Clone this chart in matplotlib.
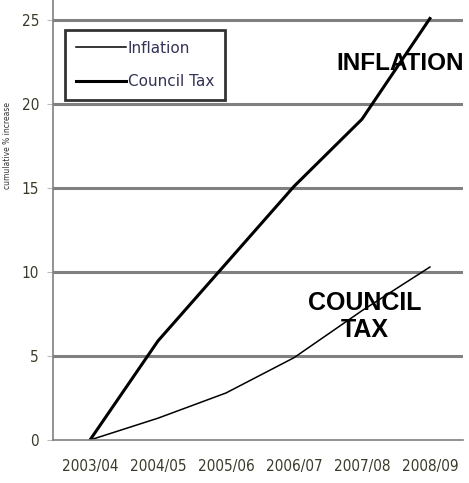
import matplotlib.pyplot as plt
from matplotlib import font_manager

years = ['2003/04', '2004/05', '2005/06', '2006/07', '2007/08', '2008/09']
inflation = [0, 1.3, 2.8, 4.9, 7.7, 10.3]
council_tax = [0, 5.9, 10.5, 15.1, 19.1, 25.1]

# narrow font for the ticks, like the original
names = {f.name for f in font_manager.fontManager.ttflist}
narrow = 'Liberation Sans Narrow' if 'Liberation Sans Narrow' in names else 'DejaVu Sans'

fig = plt.figure(figsize=(4.69, 4.83), dpi=100)
ax = fig.add_axes([0.113, 0.089, 0.874, 0.911])

x = range(len(years))
ax.plot(x, inflation, color='black', lw=1.1, label='Inflation')
ax.plot(x, council_tax, color='black', lw=2.2, label='Council Tax')

ax.set_xlim(-0.544, 5.485)
ax.set_ylim(0, 26.2)
ax.set_yticks([0, 5, 10, 15, 20, 25])
ax.set_xticks(list(x))
ax.set_xticklabels(years)

# gray horizontal gridlines
for v in [5, 10, 15, 20, 25]:
    ax.axhline(v, color='#808080', lw=2.2, zorder=0)

for s in ['top', 'right']:
    ax.spines[s].set_visible(False)
for s in ['left', 'bottom']:
    ax.spines[s].set_color('#808080')
    ax.spines[s].set_linewidth(1.2)

for lab in ax.get_xticklabels() + ax.get_yticklabels():
    lab.set_fontfamily(narrow)
    lab.set_fontstretch('condensed')
    lab.set_fontsize(11)
    lab.set_color('#3a3a2a')
ax.tick_params(axis='y', length=4, color='#bbbbbb', pad=6)
ax.tick_params(axis='x', length=0, pad=14)

ax.set_ylabel('cumulative % increase', fontsize=5.5, color='#333333')
ax.yaxis.set_label_coords(-0.1, 0.67)

leg = ax.legend(loc='upper left', bbox_to_anchor=(0.029, 0.932),
                prop={'family': narrow, 'size': 11},
                frameon=True, fancybox=False, handlelength=3.3, handletextpad=0.1,
                borderpad=0.7, labelspacing=1.2, borderaxespad=0)
leg.get_frame().set_edgecolor('black')
leg.get_frame().set_linewidth(2)
for t in leg.get_texts():
    t.set_color('#333355')

ax.text(3.62, 22.4, 'INFLATION', fontsize=17.5, fontweight='bold', ha='left',
        va='center', family='Liberation Sans')
ax.text(4.04, 7.35, 'COUNCIL\nTAX', fontsize=18, fontweight='bold', ha='center',
        va='center', family='Liberation Sans', linespacing=1.15)

fig.savefig('out.png', dpi=100)
